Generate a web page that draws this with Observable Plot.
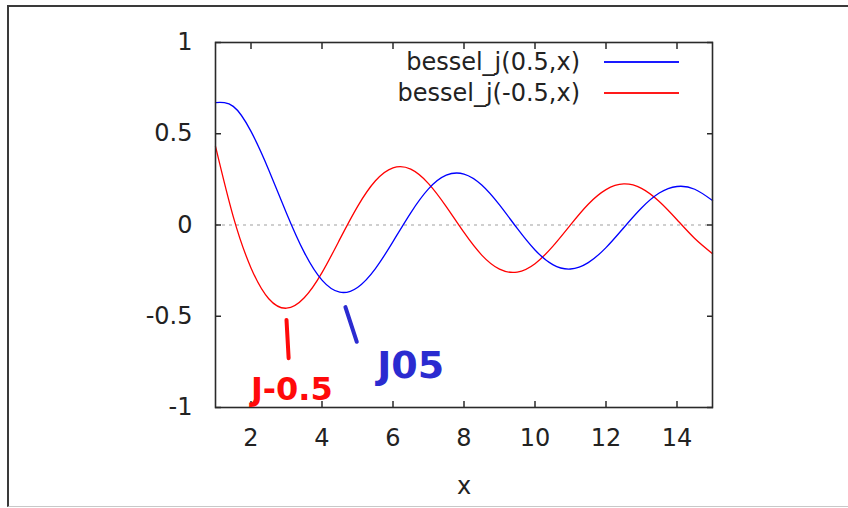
<!DOCTYPE html>
<html>
<head>
<meta charset="utf-8">
<script src="https://cdn.jsdelivr.net/npm/d3@7"></script>
<script src="https://cdn.jsdelivr.net/npm/@observablehq/plot@0.6"></script>
<style>
  html, body { margin: 0; padding: 0; background: #fff; }
  #wrap { position: relative; width: 848px; height: 508px; overflow: hidden; font-family: "DejaVu Sans", sans-serif; }
  #outer { position: absolute; left: 7px; top: 5px; width: 860px; height: 499px;
           border-left: 2px solid #3a3a3a; border-top: 2px solid #3a3a3a; border-bottom: 1px solid #c8c8c8; }
  #chart { position: absolute; left: 0; top: 0; }
  .leg { position: absolute; left: 0; width: 848px; height: 30px; }
  .leg span { position: absolute; right: 268px; top: 0; line-height: 30px; font-size: 24px; color: #222; white-space: nowrap; }
  .leg i { position: absolute; left: 604px; width: 75px; top: 14px; height: 2px; }
</style>
</head>
<body>
<div id="wrap">
  <div id="outer"></div>
  <div id="chart"></div>
  <div class="leg" style="top:47px"><span>bessel_j(0.5,x)</span><i style="background:#1a1aff"></i></div>
  <div class="leg" style="top:78px"><span>bessel_j(-0.5,x)</span><i style="background:#ff1a1a"></i></div>
</div>
<script>
// x samples
const xs = [1, 1.5, 2, 2.5, 3, 3.5, 4, 4.5, 5, 5.5, 6, 6.5, 7, 7.5, 8, 8.5, 9, 9.5, 10, 10.5, 11, 11.5, 12, 12.5, 13, 13.5, 14, 14.5, 15];
// bessel_j(0.5, x)
const jPos = [0.671, 0.650, 0.513, 0.302, 0.065, -0.150, -0.302, -0.368, -0.342, -0.240, -0.091, 0.067, 0.198, 0.273, 0.279, 0.219, 0.110, -0.019, -0.137, -0.217, -0.241, -0.206, -0.124, -0.015, 0.093, 0.175, 0.211, 0.196, 0.134];
// bessel_j(-0.5, x)
const jNeg = [0.431, 0.046, -0.235, -0.404, -0.456, -0.399, -0.261, -0.079, 0.101, 0.241, 0.313, 0.306, 0.227, 0.101, -0.041, -0.165, -0.242, -0.258, -0.212, -0.117, 0.001, 0.114, 0.194, 0.225, 0.201, 0.129, 0.029, -0.074, -0.157];
const xTicks = [2, 4, 6, 8, 10, 12, 14];
const yTicks = [-1, -0.5, 0, 0.5, 1];
// handwritten annotations
const annoLabels = ["J-0.5", "J05"];
const annoColors = ["#ff0a0a", "#2b2bd0"];
const annoSizes = [32, 38];
const annoText = [{x: 3.15, y: -0.9}, {x: 6.5, y: -0.77}];
const annoStroke = [{x1: 3.0, y1: -0.52, x2: 3.06, y2: -0.73}, {x1: 4.66, y1: -0.45, x2: 4.98, y2: -0.64}];

const posRows = xs.map((x, i) => ({x, y: jPos[i]}));
const negRows = xs.map((x, i) => ({x, y: jNeg[i]}));
const textRows = annoText.map((d, i) => ({...d, label: annoLabels[i], c: annoColors[i], s: annoSizes[i]}));
const strokeRows = annoStroke.map((d, i) => ({...d, c: annoColors[i]}));

const chart = Plot.plot({
  width: 848,
  height: 508,
  marginLeft: 215,
  marginRight: 136,
  marginTop: 42,
  marginBottom: 101,
  x: {domain: [1, 15]},
  y: {domain: [-1, 1]},
  style: {fontFamily: "DejaVu Sans", fontSize: "24px", color: "#222", background: "transparent", overflow: "visible"},
  marks: [
    Plot.ruleY([0], {stroke: "#a0a0a0", strokeWidth: 1.2, strokeDasharray: "3,4"}),
    Plot.line(negRows, {x: "x", y: "y", stroke: "#ff0000", strokeWidth: 1.3, curve: "natural"}),
    Plot.line(posRows, {x: "x", y: "y", stroke: "#0000ff", strokeWidth: 1.3, curve: "natural"}),
    Plot.frame({stroke: "#2a2a2a", strokeWidth: 1.6}),
    // tick labels
    Plot.axisX({ticks: xTicks, anchor: "bottom", tickSize: 0, tickPadding: 21, label: null, fontSize: 24, fill: "#222"}),
    Plot.axisY({ticks: yTicks, anchor: "left", tickSize: 0, tickPadding: 23, label: null, fontSize: 24, fill: "#222", tickFormat: d => String(d)}),
    // inward ticks, mirrored
    Plot.axisX({ticks: xTicks, anchor: "bottom", tickSize: 6, dy: -6, tickFormat: () => "", label: null, stroke: "#2a2a2a", strokeWidth: 1.5}),
    Plot.axisX({ticks: xTicks, anchor: "top", tickSize: 6, dy: 6, tickFormat: () => "", label: null, stroke: "#2a2a2a", strokeWidth: 1.5}),
    Plot.axisY({ticks: yTicks, anchor: "left", tickSize: 6, dx: 6, tickFormat: () => "", label: null, stroke: "#2a2a2a", strokeWidth: 1.5}),
    Plot.axisY({ticks: yTicks, anchor: "right", tickSize: 6, dx: -6, tickFormat: () => "", label: null, stroke: "#2a2a2a", strokeWidth: 1.5}),
    // x axis title
    Plot.text(["x"], {frameAnchor: "bottom", dy: 79, lineAnchor: "middle", fontSize: 24, fill: "#222"}),
    // handwritten annotations
    Plot.link(strokeRows, {x1: "x1", y1: "y1", x2: "x2", y2: "y2", stroke: "c", strokeWidth: 4, strokeLinecap: "round"}),
    Plot.text(textRows, {x: "x", y: "y", text: "label", fill: "c", fontSize: "s", fontWeight: "bold", letterSpacing: "5px"})
  ]
});
document.getElementById("chart").appendChild(chart);
</script>
</body>
</html>
